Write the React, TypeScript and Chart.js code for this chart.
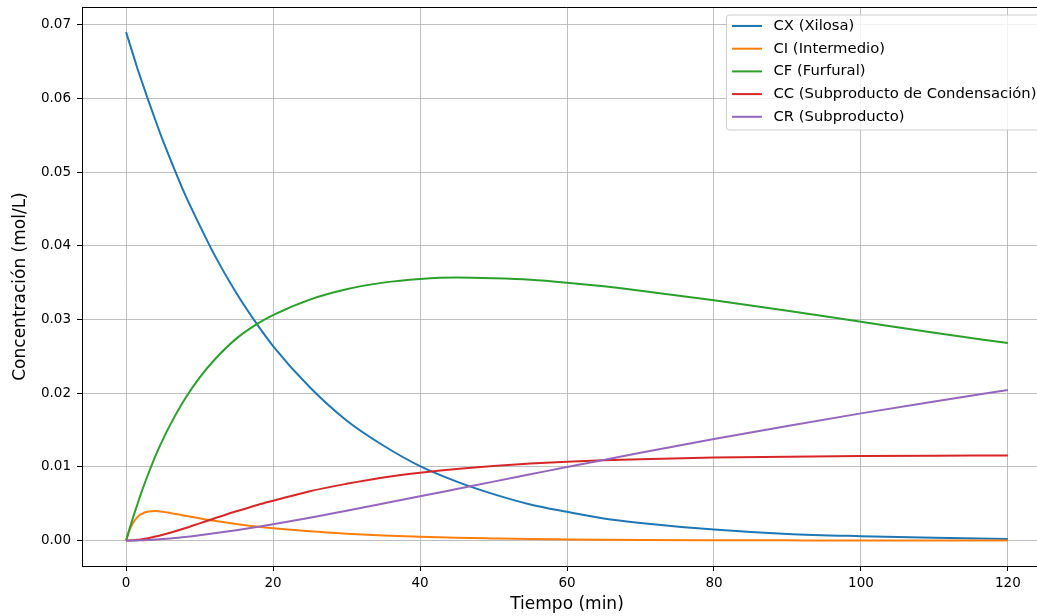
import React, { useEffect, useRef } from "react";
import { Chart, registerables } from "chart.js";

Chart.register(...registerables);

// ---- data ----
const timeMin = [0, 0.5, 1, 1.5, 2, 3, 4, 5, 6, 8, 10, 12, 15, 18, 20, 25, 30, 35, 40, 45, 50, 55, 60, 65, 70, 80, 90, 100, 110, 120];

const cxXilosa = [0.0690, 0.0674, 0.0658, 0.0642, 0.0627, 0.0598, 0.0570, 0.0543, 0.0518, 0.0470, 0.0428, 0.0388, 0.0336, 0.0291, 0.0264, 0.0208, 0.0163, 0.0129, 0.0101, 0.0080, 0.0063, 0.0049, 0.0039, 0.0030, 0.0024, 0.0015, 0.0009, 0.0006, 0.0004, 0.0002];
const ciIntermedio = [0, 0.00149, 0.00248, 0.00314, 0.00355, 0.00394, 0.0040, 0.00391, 0.00375, 0.00338, 0.00302, 0.00268, 0.00225, 0.00188, 0.00167, 0.00125, 0.00093, 0.00069, 0.00051, 0.00038, 0.00029, 0.00021, 0.00016, 0.00012, 0.00009, 0.00005, 0.00003, 0.00001, 0.00001, 0];
const cfFurfural = [0, 0.0017, 0.0033, 0.0048, 0.0063, 0.0090, 0.0115, 0.0137, 0.0157, 0.0192, 0.0221, 0.0245, 0.0274, 0.0295, 0.0306, 0.0327, 0.0341, 0.0350, 0.0355, 0.0357, 0.0356, 0.0354, 0.0350, 0.0345, 0.0339, 0.0326, 0.0312, 0.0297, 0.0282, 0.0268];
const ccCondensacion = [0, 0.00001, 0.00004, 0.0001, 0.00016, 0.00032, 0.00054, 0.00079, 0.00107, 0.00168, 0.00234, 0.0030, 0.00397, 0.00487, 0.0054, 0.0067, 0.0077, 0.00856, 0.0092, 0.00972, 0.01013, 0.01045, 0.0107, 0.01089, 0.01105, 0.01126, 0.01139, 0.01147, 0.01152, 0.01155];
const crSubproducto = [0, 0, 0.00001, 0.00002, 0.00004, 0.00008, 0.00014, 0.00021, 0.00029, 0.00048, 0.00072, 0.00098, 0.00141, 0.00189, 0.00223, 0.00311, 0.00405, 0.00502, 0.0060, 0.0070, 0.0080, 0.00899, 0.00998, 0.01095, 0.01191, 0.01377, 0.01556, 0.01726, 0.01888, 0.02042];

const seriesLabels = [
  "CX (Xilosa)",
  "CI (Intermedio)",
  "CF (Furfural)",
  "CC (Subproducto de Condensación)",
  "CR (Subproducto)",
];
const seriesColors = ["#1f77b4", "#ff7f0e", "#2ca02c", "#d62728", "#9467bd"];

const xTicks = [0, 20, 40, 60, 80, 100, 120];
const yTicks = [0, 0.01, 0.02, 0.03, 0.04, 0.05, 0.06, 0.07];

const FONT = '"DejaVu Sans", "Liberation Sans", sans-serif';

const framePlugin = {
  id: "mplFrameLegend",
  afterDraw(chart: any) {
    const { ctx, chartArea: a } = chart;
    ctx.save();
    // top and right spines
    ctx.strokeStyle = "#000";
    ctx.lineWidth = 1;
    ctx.beginPath();
    const top = Math.round(a.top) + 0.5;
    const right = Math.round(a.right) - 0.5;
    ctx.moveTo(a.left, top);
    ctx.lineTo(right, top);
    ctx.lineTo(right, a.bottom);
    ctx.stroke();

    // legend (matplotlib style, upper right inside axes)
    const fs = 14.8;
    ctx.font = `${fs}px ${FONT}`;
    const labels: string[] = chart.data.datasets.map((d: any) => d.label);
    const tw = Math.max(...labels.map((l) => ctx.measureText(l).width));
    const pad = 5.5;
    const hl = 30;
    const htp = 11.5;
    const rowH = 22.7;
    const w = pad + hl + htp + tw + pad;
    const h = labels.length * rowH + 1.5;
    const bx = a.right - 10 - w;
    const by = a.top + 8;
    const r = 3;
    ctx.beginPath();
    ctx.moveTo(bx + r, by);
    ctx.lineTo(bx + w - r, by);
    ctx.arcTo(bx + w, by, bx + w, by + r, r);
    ctx.lineTo(bx + w, by + h - r);
    ctx.arcTo(bx + w, by + h, bx + w - r, by + h, r);
    ctx.lineTo(bx + r, by + h);
    ctx.arcTo(bx, by + h, bx, by + h - r, r);
    ctx.lineTo(bx, by + r);
    ctx.arcTo(bx, by, bx + r, by, r);
    ctx.closePath();
    ctx.fillStyle = "rgba(255,255,255,0.8)";
    ctx.fill();
    ctx.strokeStyle = "#cccccc";
    ctx.lineWidth = 1;
    ctx.stroke();

    labels.forEach((l, i) => {
      const cy = by + 11 + i * rowH;
      ctx.strokeStyle = chart.data.datasets[i].borderColor;
      ctx.lineWidth = 2;
      ctx.beginPath();
      ctx.moveTo(bx + pad, cy);
      ctx.lineTo(bx + pad + hl, cy);
      ctx.stroke();
      ctx.fillStyle = "#000";
      ctx.textBaseline = "middle";
      ctx.textAlign = "left";
      ctx.fillText(l, bx + pad + hl + htp, cy);
    });
    ctx.restore();
  },
};

export default function App() {
  const ref = useRef<HTMLCanvasElement>(null);
  useEffect(() => {
    const canvas = ref.current!;
    const series = [cxXilosa, ciIntermedio, cfFurfural, ccCondensacion, crSubproducto];
    const chart = new Chart(canvas, {
      type: "line",
      data: {
        datasets: series.map((s, i) => ({
          label: seriesLabels[i],
          data: timeMin.map((t, j) => ({ x: t, y: s[j] })),
          borderColor: seriesColors[i],
          backgroundColor: seriesColors[i],
          borderWidth: 2,
          pointRadius: 0,
          fill: false,
          cubicInterpolationMode: "monotone",
          order: series.length - i,
        })),
      },
      options: {
        responsive: false,
        animation: false,
        devicePixelRatio: 1,
        events: [],
        layout: { padding: { left: 0, top: 7, right: 48, bottom: 0 } },
        plugins: { legend: { display: false }, tooltip: { enabled: false } },
        scales: {
          x: {
            type: "linear",
            min: -6,
            max: 126,
            afterBuildTicks: (s: any) => {
              s.ticks = xTicks.map((v) => ({ value: v }));
            },
            afterFit: (s: any) => {
              s.height = 50;
              s.paddingLeft = 0;
              s.paddingRight = 0;
            },
            ticks: {
              callback: (v: any) => String(v),
              font: { family: FONT, size: 13.5 },
              color: "#000",
              padding: 4,
              maxRotation: 0,
              autoSkip: false,
            },
            grid: { color: "#b0b0b0", lineWidth: 0.8, tickColor: "#000", tickLength: 5, tickWidth: 1 },
            border: { display: true, color: "#000", width: 1 },
            title: {
              display: true,
              text: "Tiempo (min)",
              font: { family: FONT, size: 17 },
              color: "#000",
              padding: { top: 0, bottom: 1 },
            },
          },
          y: {
            type: "linear",
            min: -0.00345,
            max: 0.0724,
            afterBuildTicks: (s: any) => {
              s.ticks = yTicks.map((v) => ({ value: v }));
            },
            afterFit: (s: any) => {
              s.width = 82;
              s.paddingTop = 0;
              s.paddingBottom = 0;
            },
            ticks: {
              callback: (v: any) => Number(v).toFixed(2),
              font: { family: FONT, size: 13.5 },
              color: "#000",
              padding: 6,
              autoSkip: false,
            },
            grid: { color: "#b0b0b0", lineWidth: 0.8, tickColor: "#000", tickLength: 5, tickWidth: 1 },
            border: { display: true, color: "#000", width: 1 },
            title: {
              display: true,
              text: "Concentración (mol/L)",
              font: { family: FONT, size: 17 },
              color: "#000",
              padding: { top: 10, bottom: 0 },
            },
          },
        },
      },
      plugins: [framePlugin],
    } as any);
    return () => chart.destroy();
  }, []);

  return (
    <div style={{ position: "fixed", left: 0, top: 0, width: 1037, height: 616, overflow: "hidden", background: "#fff" }}>
      <canvas ref={ref} width={1100} height={616} style={{ display: "block", width: 1100, height: 616 }} />
    </div>
  );
}
